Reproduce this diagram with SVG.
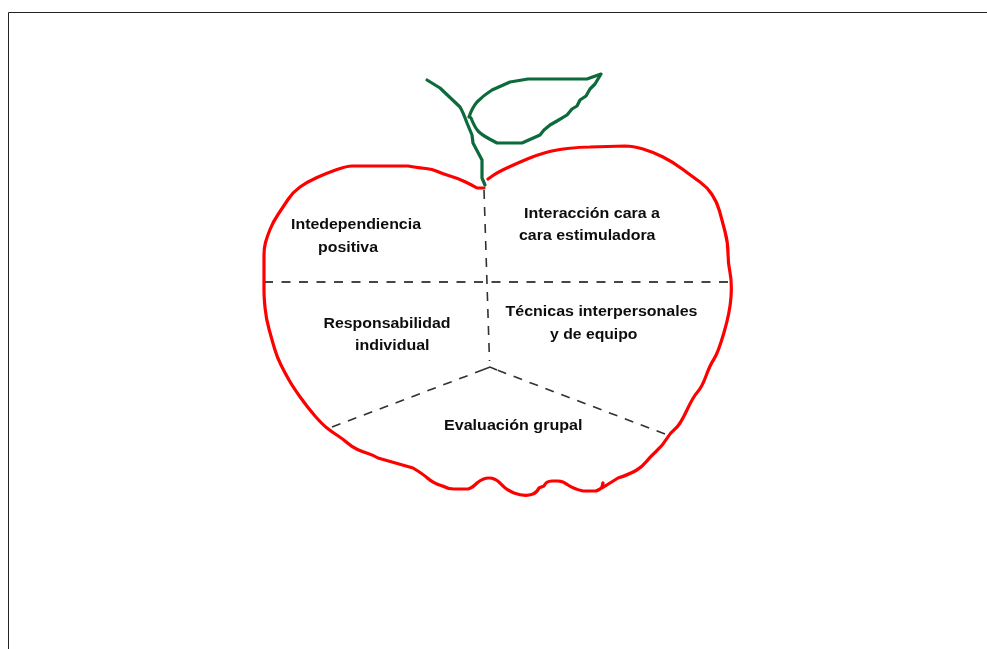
<svg xmlns="http://www.w3.org/2000/svg" width="987" height="649" viewBox="0 0 987 649">
<defs><filter id="soft" filterUnits="userSpaceOnUse" x="0" y="0" width="987" height="649"><feGaussianBlur stdDeviation="0.4"/></filter></defs>
<style>
.o{fill:none;stroke-linejoin:round;stroke-linecap:round}
.r{stroke:#ff0000;stroke-width:3.200}
.g{stroke:#0a6a3a;stroke-width:3.200}
.d{fill:none;stroke:#303030;stroke-width:1.600;stroke-dasharray:9 8}
.h{stroke:#444;stroke-width:2;stroke-dasharray:9 8.500}
text{font-family:"Liberation Sans",Arial,sans-serif;font-weight:700;font-size:14.5px;fill:#111}
</style>
<rect width="987" height="649" fill="#fff"/>
<path d="M8.500 649V12.500H987" fill="none" stroke="#222" stroke-width="1"/>
<g filter="url(#soft)">
<g id="connectors">
<path class="d" d="M484 190L489.500 361"/>
<path class="d h" d="M264 282H732"/>
<path class="d" d="M332 427L483 369.800"/>
<path class="d" d="M665 434L497 370"/>
<path fill="none" stroke="#303030" stroke-width="1.600" d="M483 369.800L490 367L497 370"/>
</g>
<g id="apple">
<path class="o r" d="M484 188L477 188Q472 185 464.500 181.500Q457 178 450 176Q443 174 437.500 171.500Q432 169 426 168.500Q420 168 414 167L408 166L352 166Q347 166 337 169.500Q327 173 317 177.500Q307 182 300 187Q293 192 288 199.500Q283 207 278 214.500Q273 222 270 229.500Q267 237 265.500 242.500Q264 248 264 255L264 290Q264 297 265 307.500Q266 318 269 329Q272 340 274.500 348.500Q277 357 281 365Q285 373 289 380Q293 387 300.500 397.500Q308 408 315 416Q322 424 327 428Q332 432 337.500 435.500Q343 439 347.500 443Q352 447 357.500 449.500Q363 452 368 453.500Q373 455 378 458L413 468Q423 474 428 478.500Q433 483 442.500 486Q448 489 454 489L468 489Q472 488 477 483Q483 478 489 478Q495 478 500 483Q506 490 514 493Q525 497 533 494Q537 492.500 539 488Q541 487 544 486Q546 481 552 481L558 481Q563 481 568 485Q574 489 583 491L596 491Q601 489 602 487L603 483L602 488L618 478Q630 474 636 470.500Q642 467 646 462Q650 457 656.500 451Q663 445 666.500 439Q670 433 675 429Q680 425 686.500 411Q693 397 697.500 392Q702 387 706 376Q710 365 714 359Q718 353 724 332.500Q730 312 731 297Q732 282 730 272.500Q728 263 728 253Q728 243 725 231.500Q722 220 719.500 211Q717 202 712 194.500Q707 187 700 182Q693 177 683 169.500Q673 162 663 157Q653 152 643 149Q633 146 625 146L590 147Q580 147 567.500 148.500Q555 150 546 152.500Q537 155 528.500 158.500Q520 162 509 167Q498 172 493 175.500L488 179"/>
</g>
<g id="stem">
<path class="o g" d="M427 80L440 88L460 107Q463 112 467 123L472 135L473 143L482 160L482 178L485 185"/>
</g>
<g id="leaf">
<path class="o g" d="M471 118Q475 128 478.500 131.500Q482 135 489.500 139L497 143L522 143L540 135L544 130L550 125L557 121L567 115L572 109L577 106L580 100L586 96L590 89L595 84L601 74L587 79L528 79L510 82L492 90Q484 95 477 102Q472 108 469 117"/>
</g>
<g id="n1"><text x="291" y="229.300" textLength="130" lengthAdjust="spacingAndGlyphs">Intedependiencia</text><text x="318" y="251.700" textLength="60" lengthAdjust="spacingAndGlyphs">positiva</text></g>
<g id="n2"><text x="524" y="217.700" textLength="136" lengthAdjust="spacingAndGlyphs">Interacción cara a</text><text x="519" y="240" textLength="136.500" lengthAdjust="spacingAndGlyphs">cara estimuladora</text></g>
<g id="n3"><text x="323.500" y="327.700" textLength="127" lengthAdjust="spacingAndGlyphs">Responsabilidad</text><text x="355" y="350" textLength="74.500" lengthAdjust="spacingAndGlyphs">individual</text></g>
<g id="n4"><text x="505.500" y="316" textLength="192" lengthAdjust="spacingAndGlyphs">Técnicas interpersonales</text><text x="550" y="338.500" textLength="87.500" lengthAdjust="spacingAndGlyphs">y de equipo</text></g>
<g id="n5"><text x="444" y="430" textLength="138.500" lengthAdjust="spacingAndGlyphs">Evaluación grupal</text></g>
</g>
</svg>
